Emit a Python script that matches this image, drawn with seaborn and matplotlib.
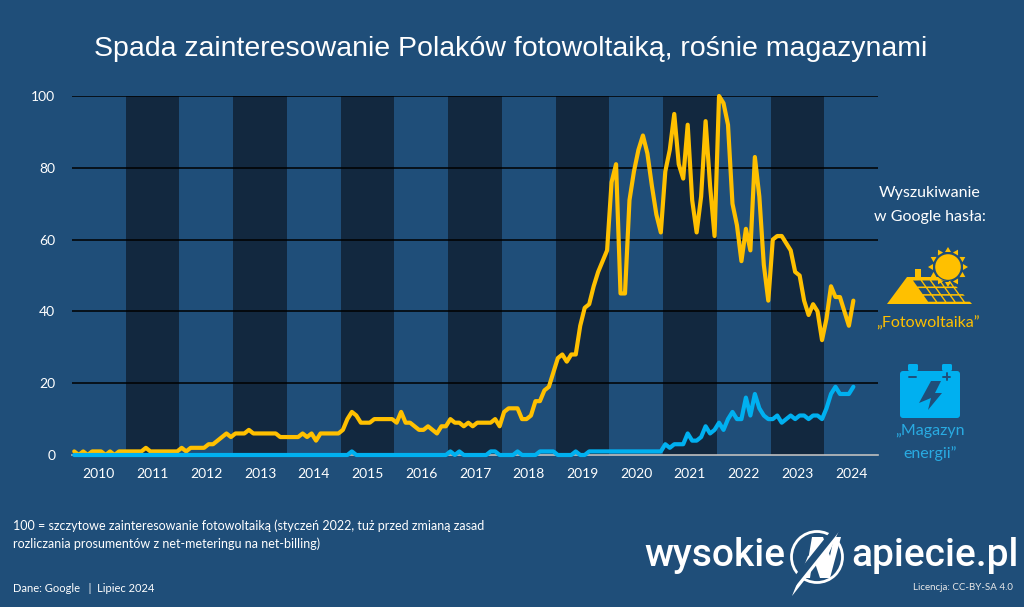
import numpy as np
import pandas as pd
import matplotlib
matplotlib.use('Agg')
import matplotlib.pyplot as plt
import seaborn as sns
from matplotlib.patches import Polygon, Circle, FancyBboxPatch, Rectangle

years = list(range(2010, 2025))

fotowoltaika = [
    1, 0, 1, 0, 1, 1, 1, 0, 1, 0, 1, 1,
    1, 1, 1, 1, 2, 1, 1, 1, 1, 1, 1, 1,
    2, 1, 2, 2, 2, 2, 3, 3, 4, 5, 6, 5,
    6, 6, 6, 7, 6, 6, 6, 6, 6, 6, 5, 5,
    5, 5, 5, 6, 5, 6, 4, 6, 6, 6, 6, 6,
    7, 10, 12, 11, 9, 9, 9, 10, 10, 10, 10, 10,
    9, 12, 9, 9, 8, 7, 7, 8, 7, 6, 8, 8,
    10, 9, 9, 8, 9, 8, 9, 9, 9, 9, 10, 8,
    12, 13, 13, 13, 10, 10, 11, 15, 15, 18, 19, 23,
    27, 28, 26, 28, 28, 36, 41, 42, 47, 51, 54, 57,
    76, 81, 45, 45, 71, 79, 85, 89, 84, 75, 67, 62,
    79, 85, 95, 81, 77, 92, 71, 62, 72, 93, 75, 61,
    100, 98, 92, 70, 64, 54, 63, 57, 83, 72, 53, 43,
    60, 61, 61, 59, 57, 51, 50, 43, 39, 42, 40, 32,
    38, 47, 44, 44, 40, 36, 43,
]
magazyn = [
    0, 0, 0, 0, 0, 0, 0, 0, 0, 0, 0, 0,
    0, 0, 0, 0, 0, 0, 0, 0, 0, 0, 0, 0,
    0, 0, 0, 0, 0, 0, 0, 0, 0, 0, 0, 0,
    0, 0, 0, 0, 0, 0, 0, 0, 0, 0, 0, 0,
    0, 0, 0, 0, 0, 0, 0, 0, 0, 0, 0, 0,
    0, 0, 1, 0, 0, 0, 0, 0, 0, 0, 0, 0,
    0, 0, 0, 0, 0, 0, 0, 0, 0, 0, 0, 0,
    1, 0, 1, 0, 0, 0, 0, 0, 0, 1, 1, 0,
    0, 0, 0, 1, 0, 0, 0, 0, 1, 1, 1, 1,
    0, 0, 0, 0, 1, 0, 0, 1, 1, 1, 1, 1,
    1, 1, 1, 1, 1, 1, 1, 1, 1, 1, 1, 1,
    3, 2, 3, 3, 3, 6, 4, 4, 5, 8, 6, 7,
    9, 7, 10, 12, 10, 10, 16, 11, 17, 13, 11, 10,
    10, 11, 9, 10, 11, 10, 11, 11, 10, 11, 11, 10,
    13, 17, 19, 17, 17, 17, 19,
]

bg_color = '#1F4E79'
band_color = '#12283F'
yellow = '#FFC000'
blue = '#00B0F0'
blue_text = '#29ABE2'

sns.set_theme(style='white')
plt.rcParams['font.family'] = ['Lato', 'DejaVu Sans']

months = np.arange(len(fotowoltaika))
df = pd.DataFrame({
    'rok': np.tile(2010 + (months + 0.5) / 12, 2),
    'wartosc': fotowoltaika + magazyn,
    'haslo': ['Fotowoltaika'] * len(months) + ['Magazyn energii'] * len(months),
})

fig = plt.figure(figsize=(10.24, 6.07), dpi=100, facecolor=bg_color)
ax = fig.add_axes([72 / 1024, 1 - 455 / 607, 806 / 1024, 359 / 607], facecolor=bg_color)

for y in years[1::2]:
    ax.axvspan(y, y + 1, color=band_color, lw=0, zorder=0)
for v in [20, 40, 60, 80, 100]:
    ax.axhline(v, color='black', lw=1.1, zorder=1)

sns.lineplot(data=df, x='rok', y='wartosc', hue='haslo', hue_order=['Fotowoltaika', 'Magazyn energii'],
             palette=[yellow, blue], errorbar=None, legend=False, lw=3, ax=ax, zorder=3, clip_on=False)

ax.set_xlim(2010, 2025)
ax.set_ylim(0, 100)
ax.set_xlabel('')
ax.set_ylabel('')
for s in ['top', 'left', 'right']:
    ax.spines[s].set_visible(False)
ax.spines['bottom'].set_color('#BFBFBF')
ax.spines['bottom'].set_linewidth(1.2)
ax.set_yticks([0, 20, 40, 60, 80, 100])
ax.tick_params(axis='y', length=0, labelsize=10, labelcolor='white', pad=12)
ax.set_xticks(years)
ax.set_xticklabels([])
ax.tick_params(axis='x', which='major', length=2, width=1, color='#BFBFBF', direction='out')
ax.set_xticks([y + 0.5 for y in years], minor=True)
ax.set_xticklabels(years, minor=True)
ax.tick_params(axis='x', which='minor', length=0, labelsize=10, labelcolor='white', pad=9)

# warstwa w pikselach na ikony i opisy
ov = fig.add_axes([0, 0, 1, 1], facecolor='none', zorder=5)
ov.set_xlim(0, 1024)
ov.set_ylim(607, 0)
ov.axis('off')

ov.text(511, 49, 'Spada zainteresowanie Polaków fotowoltaiką, rośnie magazynami', color='white',
        fontsize=20.5, family=['Liberation Sans'], ha='center', va='center')

ov.text(930, 193, 'Wyszukiwanie', color='white', fontsize=11.5, ha='center', va='center')
ov.text(930, 217, 'w Google hasła:', color='white', fontsize=11.5, ha='center', va='center')
ov.text(928, 323, '„Fotowoltaika”', color=yellow, fontsize=11.5, ha='center', va='center')
ov.text(930, 431, '„Magazyn', color=blue_text, fontsize=11.5, ha='center', va='center')
ov.text(930, 454, 'energii”', color=blue_text, fontsize=11.5, ha='center', va='center')

ov.text(13, 526, '100 = szczytowe zainteresowanie fotowoltaiką (styczeń 2022, tuż przed zmianą zasad',
        color='white', fontsize=9, va='center')
ov.text(13, 544, 'rozliczania prosumentów z net-meteringu na net-billing)', color='white', fontsize=9, va='center')
ov.text(13, 588, 'Dane: Google   |  Lipiec 2024', color='white', fontsize=8, va='center')
ov.text(1013, 587, 'Licencja: CC-BY-SA 4.0', color='#E8E8E8', fontsize=7, ha='right', va='center')

# logo
ov.text(785, 556, 'wysokie', color='white', fontsize=28, family=['Roboto'], weight='medium', ha='right', va='center')
ov.text(851, 556, 'apiecie.pl', color='white', fontsize=28, family=['Roboto'], weight='medium', ha='left', va='center')
ov.add_patch(Circle((817, 557), 25.5, fc='none', ec='white', lw=2))
ov.plot([856, 780], [505, 600], color=bg_color, lw=5, solid_capstyle='butt')
ov.add_patch(Polygon([(805, 578), (812, 537), (823, 537), (830, 556), (834, 537), (841, 537), (830, 578),
                      (820, 578), (813, 557), (810, 578)], fc='white', ec='none'))
ov.add_patch(Polygon([(845, 517), (826, 560), (818, 563), (792, 596), (808, 556), (816, 553)], fc='white', ec='none'))

# ikona: dach z panelami i slonce
ov.add_patch(Polygon([(887, 304), (907, 277), (948, 277), (972, 304)], fc=yellow, ec='none'))
ov.add_patch(Rectangle((915, 269), 6, 8, fc=yellow, ec='none'))
for r in range(3):
    for c in range(5):
        x0 = 913 + c * 9.2 + r * 5.4
        y0 = 280.5 + r * 7.6
        ov.add_patch(Polygon([(x0, y0), (x0 + 7.5, y0), (x0 + 11.8, y0 + 6), (x0 + 4.3, y0 + 6)], fc=bg_color, ec='none'))
for a in np.arange(0, 360, 30):
    t = np.deg2rad(a)
    n = np.array([np.cos(t), np.sin(t)])
    p = np.array([-n[1], n[0]])
    c0 = np.array([948, 267])
    ov.add_patch(Polygon([c0 + 20 * n, c0 + 15 * n + 3 * p, c0 + 15 * n - 3 * p], fc=yellow, ec='none'))
ov.add_patch(Circle((948, 267), 14, fc=bg_color, ec='none'))
ov.add_patch(Circle((948, 267), 12.8, fc=yellow, ec='none'))

# ikona: akumulator
ov.add_patch(FancyBboxPatch((902, 373), 56, 43, boxstyle='round,pad=2,rounding_size=3', fc=blue, ec='none'))
ov.add_patch(FancyBboxPatch((909, 365), 8, 5, boxstyle='round,pad=1,rounding_size=1.5', fc=blue, ec='none'))
ov.add_patch(FancyBboxPatch((943, 365), 8, 5, boxstyle='round,pad=1,rounding_size=1.5', fc=blue, ec='none'))
ov.plot([909, 916], [376.5, 376.5], color=bg_color, lw=1.4)
ov.plot([943, 950], [376.5, 376.5], color=bg_color, lw=1.4)
ov.plot([946.5, 946.5], [373, 380], color=bg_color, lw=1.4)
ov.add_patch(Polygon([(931, 381), (941, 381), (935, 393), (942, 393), (928, 410), (931, 398), (919, 403)], fc=bg_color, ec='none'))

plt.savefig('out.png', dpi=100, facecolor=bg_color)
